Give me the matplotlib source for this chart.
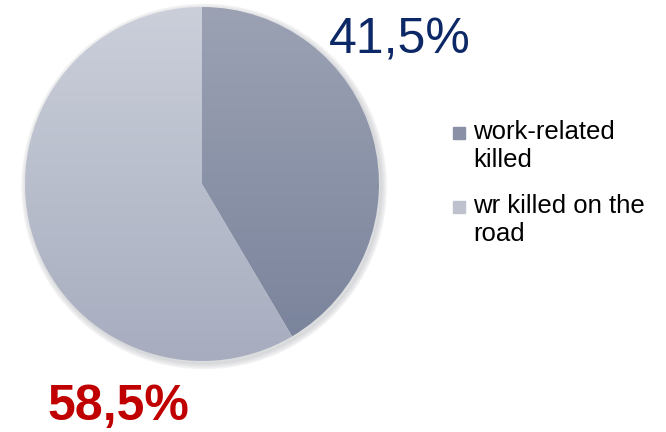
import numpy as np
import matplotlib
matplotlib.use('Agg')
import matplotlib.pyplot as plt
from matplotlib.patches import Rectangle
from matplotlib.colors import LinearSegmentedColormap

# data
categories = ['work-related\nkilled', 'wr killed on the\nroad']
shares = [41.5, 58.5]
pct_labels = ['41,5%', '58,5%']
pct_colors = ['#0c2866', '#c00000']
pct_weights = ['normal', 'bold']

# gradient colours (top, bottom) for each slice
grads = [('#9ca2b4', '#78829a'), ('#cbcfda', '#a7adbf')]

plt.rcParams['font.family'] = ['Liberation Sans', 'DejaVu Sans']

W, H = 666, 432
fig = plt.figure(figsize=(W / 100, H / 100), dpi=100)
cx, cy, r = 202, 184, 177
ax = fig.add_axes([(cx - r) / W, (H - cy - r) / H, 2 * r / W, 2 * r / H])
ax.axis('off')

# soft shadow
for k in range(6):
    sh = plt.Circle((0.012, -0.014), 1.0 + 0.006 * k, color='#555a66',
                    alpha=0.035, zorder=0, clip_on=False)
    ax.add_patch(sh)

wedges, _ = ax.pie(shares, startangle=90, counterclock=False, radius=1.0,
                   wedgeprops=dict(linewidth=0))
ax.set_xlim(-1, 1)
ax.set_ylim(-1, 1)
ax.set_aspect('equal')

yy = np.linspace(0, 1, 256).reshape(-1, 1)
for w, (top, bot) in zip(wedges, grads):
    w.set_facecolor('none')
    cmap = LinearSegmentedColormap.from_list('g', [top, bot])
    im = ax.imshow(yy, cmap=cmap, extent=[-1, 1, -1, 1], origin='upper',
                   aspect='auto', zorder=2, interpolation='bilinear')
    im.set_clip_path(w)

# percentage labels
fig.text(400 / W, 1 - 40 / H, pct_labels[0], color=pct_colors[0],
         fontsize=36, fontweight=pct_weights[0], ha='center', va='center')
fig.text(118 / W, 1 - 407 / H, pct_labels[1], color=pct_colors[1],
         fontsize=36, fontweight=pct_weights[1], ha='center', va='center')

# legend
leg_y = [133, 207]
sq_cols = ['#8a91a6', '#bec2cf']
for lab, y0, c in zip(categories, leg_y, sq_cols):
    fig.patches.append(Rectangle((453 / W, 1 - (y0 + 6) / H), 12 / W, 12 / H,
                                 transform=fig.transFigure, color=c))
    fig.text(473 / W, 1 - (y0 - 13) / H, lab, fontsize=18.5, color='black',
             ha='left', va='top', linespacing=1.2)

fig.savefig('out.png', dpi=100)
